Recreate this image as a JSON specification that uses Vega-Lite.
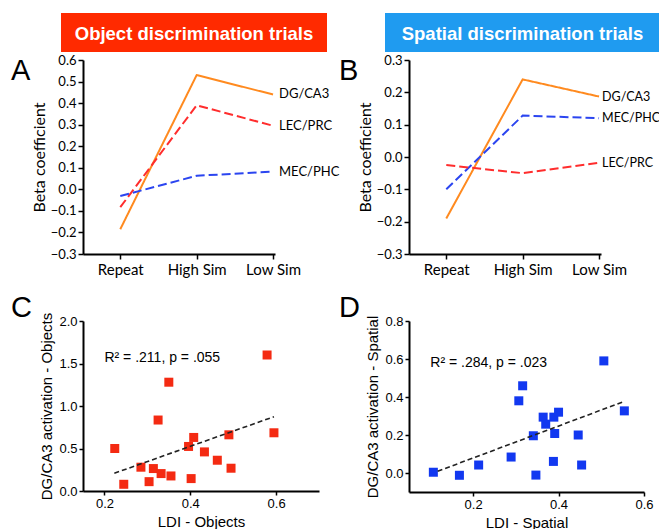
{
  "$schema": "https://vega.github.io/schema/vega-lite/v6.json",
  "padding": {"left": 10, "top": 13, "right": 0, "bottom": 4},
  "config": {
    "font": "Liberation Sans",
    "view": {"stroke": null},
    "axis": {"grid": false, "domainColor": "#000", "domainWidth": 2, "tickColor": "#000", "tickWidth": 1.5, "tickSize": 5, "labelColor": "#000", "titleColor": "#000", "labelFontSize": 13, "titleFontSize": 15, "titleFontWeight": "normal", "labelFlush": false, "labelOverlap": false}
  },
  "datasets": {
    "objectBeta": [
      {"region": "DG/CA3", "condition": "Repeat", "beta": -0.185},
      {"region": "DG/CA3", "condition": "High Sim", "beta": 0.53},
      {"region": "DG/CA3", "condition": "Low Sim", "beta": 0.44},
      {"region": "LEC/PRC", "condition": "Repeat", "beta": -0.083},
      {"region": "LEC/PRC", "condition": "High Sim", "beta": 0.39},
      {"region": "LEC/PRC", "condition": "Low Sim", "beta": 0.295},
      {"region": "MEC/PHC", "condition": "Repeat", "beta": -0.031},
      {"region": "MEC/PHC", "condition": "High Sim", "beta": 0.063},
      {"region": "MEC/PHC", "condition": "Low Sim", "beta": 0.082}
    ],
    "spatialBeta": [
      {"region": "DG/CA3", "condition": "Repeat", "beta": -0.19},
      {"region": "DG/CA3", "condition": "High Sim", "beta": 0.24},
      {"region": "DG/CA3", "condition": "Low Sim", "beta": 0.187},
      {"region": "MEC/PHC", "condition": "Repeat", "beta": -0.1},
      {"region": "MEC/PHC", "condition": "High Sim", "beta": 0.128},
      {"region": "MEC/PHC", "condition": "Low Sim", "beta": 0.12},
      {"region": "LEC/PRC", "condition": "Repeat", "beta": -0.025},
      {"region": "LEC/PRC", "condition": "High Sim", "beta": -0.05},
      {"region": "LEC/PRC", "condition": "Low Sim", "beta": -0.018}
    ],
    "objectScatter": [
      {"ldi": 0.224, "activation": 0.5},
      {"ldi": 0.245, "activation": 0.079},
      {"ldi": 0.285, "activation": 0.28},
      {"ldi": 0.304, "activation": 0.11},
      {"ldi": 0.314, "activation": 0.264},
      {"ldi": 0.325, "activation": 0.835},
      {"ldi": 0.332, "activation": 0.205},
      {"ldi": 0.35, "activation": 1.28},
      {"ldi": 0.355, "activation": 0.177},
      {"ldi": 0.396, "activation": 0.524},
      {"ldi": 0.402, "activation": 0.146},
      {"ldi": 0.408, "activation": 0.63},
      {"ldi": 0.433, "activation": 0.46},
      {"ldi": 0.463, "activation": 0.362},
      {"ldi": 0.49, "activation": 0.661},
      {"ldi": 0.495, "activation": 0.268},
      {"ldi": 0.579, "activation": 1.6},
      {"ldi": 0.595, "activation": 0.685}
    ],
    "objectFit": [
      {"ldi": 0.223, "activation": 0.209},
      {"ldi": 0.595, "activation": 0.874}
    ],
    "spatialScatter": [
      {"ldi": 0.107, "activation": 0.004},
      {"ldi": 0.168, "activation": -0.012},
      {"ldi": 0.213, "activation": 0.042},
      {"ldi": 0.289, "activation": 0.084},
      {"ldi": 0.307, "activation": 0.38},
      {"ldi": 0.316, "activation": 0.459},
      {"ldi": 0.341, "activation": 0.196},
      {"ldi": 0.347, "activation": -0.011},
      {"ldi": 0.364, "activation": 0.294},
      {"ldi": 0.37, "activation": 0.257},
      {"ldi": 0.388, "activation": 0.061},
      {"ldi": 0.389, "activation": 0.294},
      {"ldi": 0.391, "activation": 0.208},
      {"ldi": 0.4, "activation": 0.32},
      {"ldi": 0.446, "activation": 0.2},
      {"ldi": 0.454, "activation": 0.042},
      {"ldi": 0.506, "activation": 0.59},
      {"ldi": 0.554, "activation": 0.327}
    ],
    "spatialFit": [
      {"ldi": 0.117, "activation": 0.009},
      {"ldi": 0.554, "activation": 0.377}
    ]
  },
  "columns": 2,
  "bounds": "flush",
  "spacing": {"row": 67, "column": 90},
  "concat": [
    {
      "width": 192,
      "height": 194,
      "layer": [
        {
          "data": {"name": "objectBeta"},
          "layer": [
            {
              "mark": {"type": "line", "strokeWidth": 2},
              "encoding": {
                "x": {"field": "condition", "type": "ordinal", "scale": {"type": "point", "domain": ["Repeat", "High Sim", "Low Sim"], "padding": 0.257, "align": 0.95}, "axis": {"title": null, "orient": "bottom", "labelAngle": 0, "labelFont": "Lato", "labelFontSize": 15, "labelPadding": 3}},
                "y": {"field": "beta", "type": "quantitative", "scale": {"domain": [-0.3, 0.6], "nice": false, "zero": false}, "axis": {"title": "Beta coefficient", "orient": "left", "values": [-0.3, -0.2, -0.1, 0, 0.1, 0.2, 0.3, 0.4, 0.5, 0.6], "tickCount": 10, "format": ".1f", "labelOverlap": false, "labelFont": "Lato", "labelFontSize": 13, "labelPadding": 2, "titleFont": "Lato", "titleFontSize": 16, "titlePadding": 3}},
                "color": {"field": "region", "type": "nominal", "scale": {"domain": ["DG/CA3", "LEC/PRC", "MEC/PHC"], "range": ["#ff8a1f", "#ff2d2d", "#2b45f0"]}, "legend": null},
                "strokeDash": {"field": "region", "type": "nominal", "scale": {"domain": ["DG/CA3", "LEC/PRC", "MEC/PHC"], "range": [[1, 0], [9, 4], [9, 4]]}, "legend": null}
              }
            },
            {
              "transform": [{"filter": "datum.condition === 'Low Sim'"}],
              "mark": {"type": "text", "align": "left", "baseline": "middle", "dx": 6, "font": "Lato", "fontSize": 13, "color": "#000"},
              "encoding": {
                "x": {"field": "condition", "type": "ordinal", "scale": {"type": "point", "domain": ["Repeat", "High Sim", "Low Sim"], "padding": 0.257, "align": 0.95}},
                "y": {"field": "beta", "type": "quantitative", "scale": {"domain": [-0.3, 0.6], "nice": false, "zero": false}},
                "text": {"field": "region"}
              }
            }
          ]
        },
        {
          "data": {"values": [{"title": "Object discrimination trials", "panel": "A"}]},
          "layer": [
            {
              "mark": {"type": "rect", "color": "#ff2a00"},
              "encoding": {
                "x": {"datum": 0, "type": "quantitative", "scale": {"domain": [0.08271, 0.80451], "nice": false, "zero": false}, "axis": null},
                "x2": {"datum": 1},
                "y": {"datum": 0, "type": "quantitative", "scale": {"domain": [-5.1795, -0.2051], "nice": false, "zero": false}, "axis": null},
                "y2": {"datum": 1}
              }
            },
            {
              "mark": {"type": "text", "color": "#ffffff", "font": "Liberation Sans", "fontWeight": "bold", "fontSize": 18.5, "baseline": "middle", "dy": 1},
              "encoding": {
                "x": {"datum": 0.5, "type": "quantitative", "scale": {"domain": [0.08271, 0.80451], "nice": false, "zero": false}, "axis": null},
                "y": {"datum": 0.5, "type": "quantitative", "scale": {"domain": [-5.1795, -0.2051], "nice": false, "zero": false}, "axis": null},
                "text": {"field": "title"}
              }
            },
            {
              "mark": {"type": "text", "color": "#000", "font": "Liberation Sans", "fontSize": 29, "align": "left", "baseline": "alphabetic"},
              "encoding": {
                "x": {"datum": -0.188, "type": "quantitative", "scale": {"domain": [0.08271, 0.80451], "nice": false, "zero": false}, "axis": null},
                "y": {"datum": -0.718, "type": "quantitative", "scale": {"domain": [-5.1795, -0.2051], "nice": false, "zero": false}, "axis": null},
                "text": {"field": "panel"}
              }
            }
          ]
        }
      ],
      "resolve": {"scale": {"x": "independent", "y": "independent"}}
    },
    {
      "width": 192,
      "height": 194,
      "layer": [
        {
          "data": {"name": "spatialBeta"},
          "layer": [
            {
              "mark": {"type": "line", "strokeWidth": 2},
              "encoding": {
                "x": {"field": "condition", "type": "ordinal", "scale": {"type": "point", "domain": ["Repeat", "High Sim", "Low Sim"], "padding": 0.257, "align": 0.95}, "axis": {"title": null, "orient": "bottom", "labelAngle": 0, "labelFont": "Lato", "labelFontSize": 15, "labelPadding": 3}},
                "y": {"field": "beta", "type": "quantitative", "scale": {"domain": [-0.3, 0.3], "nice": false, "zero": false}, "axis": {"title": "Beta coefficient", "orient": "left", "values": [-0.3, -0.2, -0.1, 0, 0.1, 0.2, 0.3], "tickCount": 7, "format": ".1f", "labelOverlap": false, "labelFont": "Lato", "labelFontSize": 13, "labelPadding": 2, "titleFont": "Lato", "titleFontSize": 16, "titlePadding": 3}},
                "color": {"field": "region", "type": "nominal", "scale": {"domain": ["DG/CA3", "LEC/PRC", "MEC/PHC"], "range": ["#ff8a1f", "#ff2d2d", "#3a8cf2"]}, "legend": null},
                "strokeDash": {"field": "region", "type": "nominal", "scale": {"domain": ["DG/CA3", "LEC/PRC", "MEC/PHC"], "range": [[1, 0], [9, 4], [9, 4]]}, "legend": null}
              }
            },
            {
              "transform": [{"filter": "datum.condition === 'Low Sim'"}],
              "mark": {"type": "text", "align": "left", "baseline": "middle", "dx": 3, "font": "Lato", "fontSize": 12.5, "color": "#000"},
              "encoding": {
                "x": {"field": "condition", "type": "ordinal", "scale": {"type": "point", "domain": ["Repeat", "High Sim", "Low Sim"], "padding": 0.257, "align": 0.95}},
                "y": {"field": "beta", "type": "quantitative", "scale": {"domain": [-0.3, 0.3], "nice": false, "zero": false}},
                "text": {"field": "region"}
              }
            }
          ]
        },
        {
          "data": {"values": [{"title": "Spatial discrimination trials", "panel": "B"}]},
          "layer": [
            {
              "mark": {"type": "rect", "color": "#1f9bf0"},
              "encoding": {
                "x": {"datum": 0, "type": "quantitative", "scale": {"domain": [0.08727, 0.78545], "nice": false, "zero": false}, "axis": null},
                "x2": {"datum": 1},
                "y": {"datum": 0, "type": "quantitative", "scale": {"domain": [-5.1795, -0.2051], "nice": false, "zero": false}, "axis": null},
                "y2": {"datum": 1}
              }
            },
            {
              "mark": {"type": "text", "color": "#ffffff", "font": "Liberation Sans", "fontWeight": "bold", "fontSize": 18.5, "baseline": "middle", "dy": 1},
              "encoding": {
                "x": {"datum": 0.5, "type": "quantitative", "scale": {"domain": [0.08727, 0.78545], "nice": false, "zero": false}, "axis": null},
                "y": {"datum": 0.5, "type": "quantitative", "scale": {"domain": [-5.1795, -0.2051], "nice": false, "zero": false}, "axis": null},
                "text": {"field": "title"}
              }
            },
            {
              "mark": {"type": "text", "color": "#000", "font": "Liberation Sans", "fontSize": 29, "align": "left", "baseline": "alphabetic"},
              "encoding": {
                "x": {"datum": -0.1673, "type": "quantitative", "scale": {"domain": [0.08727, 0.78545], "nice": false, "zero": false}, "axis": null},
                "y": {"datum": -0.718, "type": "quantitative", "scale": {"domain": [-5.1795, -0.2051], "nice": false, "zero": false}, "axis": null},
                "text": {"field": "panel"}
              }
            }
          ]
        }
      ],
      "resolve": {"scale": {"x": "independent", "y": "independent"}}
    },
    {
      "width": 236,
      "height": 170,
      "layer": [
        {
          "data": {"name": "objectScatter"},
          "mark": {"type": "square", "size": 81, "opacity": 1, "color": "#f42a12"},
          "encoding": {
            "x": {"field": "ldi", "type": "quantitative", "scale": {"domain": [0.15, 0.7], "nice": false, "zero": false}, "axis": {"title": "LDI - Objects", "orient": "bottom", "values": [0.2, 0.4, 0.6], "format": ".1f", "labelOverlap": false, "tickSize": 4, "labelPadding": 2, "titlePadding": 4}},
            "y": {"field": "activation", "type": "quantitative", "scale": {"domain": [0, 2], "nice": false, "zero": false}, "axis": {"title": "DG/CA3 activation - Objects", "orient": "left", "values": [0, 0.5, 1, 1.5, 2], "tickCount": 5, "format": ".1f", "labelOverlap": false, "tickSize": 4, "labelPadding": 2, "titlePadding": 4}}
          }
        },
        {
          "data": {"name": "objectFit"},
          "mark": {"type": "line", "color": "#222222", "strokeWidth": 1.6, "strokeDash": [5, 3]},
          "encoding": {
            "x": {"field": "ldi", "type": "quantitative", "scale": {"domain": [0.15, 0.7], "nice": false, "zero": false}},
            "y": {"field": "activation", "type": "quantitative", "scale": {"domain": [0, 2], "nice": false, "zero": false}}
          }
        },
        {
          "data": {"values": [{"stat": "R² = .211, p = .055", "panel": "C"}]},
          "layer": [
            {
              "mark": {"type": "text", "align": "left", "baseline": "middle", "fontSize": 14, "color": "#000"},
              "encoding": {
                "x": {"datum": 0.2, "type": "quantitative", "scale": {"domain": [0.15, 0.7], "nice": false, "zero": false}},
                "y": {"datum": 1.57, "type": "quantitative", "scale": {"domain": [0, 2], "nice": false, "zero": false}},
                "text": {"field": "stat"}
              }
            },
            {
              "mark": {"type": "text", "align": "left", "baseline": "alphabetic", "fontSize": 29, "color": "#000"},
              "encoding": {
                "x": {"datum": -0.0178, "type": "quantitative", "scale": {"domain": [0.15, 0.7], "nice": false, "zero": false}},
                "y": {"datum": 2.047, "type": "quantitative", "scale": {"domain": [0, 2], "nice": false, "zero": false}},
                "text": {"field": "panel"}
              }
            }
          ]
        }
      ]
    },
    {
      "width": 235,
      "height": 171,
      "layer": [
        {
          "data": {"name": "spatialScatter"},
          "mark": {"type": "square", "size": 81, "opacity": 1, "color": "#1238f0"},
          "encoding": {
            "x": {"field": "ldi", "type": "quantitative", "scale": {"domain": [0.05, 0.6], "nice": false, "zero": false}, "axis": {"title": "LDI - Spatial", "orient": "bottom", "values": [0.2, 0.4, 0.6], "format": ".1f", "labelOverlap": false, "tickSize": 4, "labelPadding": 2, "titlePadding": 4}},
            "y": {"field": "activation", "type": "quantitative", "scale": {"domain": [-0.1, 0.8], "nice": false, "zero": false}, "axis": {"title": "DG/CA3 activation - Spatial", "orient": "left", "values": [0, 0.2, 0.4, 0.6, 0.8], "tickCount": 5, "format": ".1f", "labelOverlap": false, "tickSize": 4, "labelPadding": 2, "titlePadding": 4}}
          }
        },
        {
          "data": {"name": "spatialFit"},
          "mark": {"type": "line", "color": "#222222", "strokeWidth": 1.6, "strokeDash": [5, 3]},
          "encoding": {
            "x": {"field": "ldi", "type": "quantitative", "scale": {"domain": [0.05, 0.6], "nice": false, "zero": false}},
            "y": {"field": "activation", "type": "quantitative", "scale": {"domain": [-0.1, 0.8], "nice": false, "zero": false}}
          }
        },
        {
          "data": {"values": [{"stat": "R² = .284, p = .023", "panel": "D"}]},
          "layer": [
            {
              "mark": {"type": "text", "align": "left", "baseline": "middle", "fontSize": 14, "color": "#000"},
              "encoding": {
                "x": {"datum": 0.1, "type": "quantitative", "scale": {"domain": [0.05, 0.6], "nice": false, "zero": false}},
                "y": {"datum": 0.58, "type": "quantitative", "scale": {"domain": [-0.1, 0.8], "nice": false, "zero": false}},
                "text": {"field": "stat"}
              }
            },
            {
              "mark": {"type": "text", "align": "left", "baseline": "alphabetic", "fontSize": 29, "color": "#000"},
              "encoding": {
                "x": {"datum": -0.1138, "type": "quantitative", "scale": {"domain": [0.05, 0.6], "nice": false, "zero": false}},
                "y": {"datum": 0.821, "type": "quantitative", "scale": {"domain": [-0.1, 0.8], "nice": false, "zero": false}},
                "text": {"field": "panel"}
              }
            }
          ]
        }
      ]
    }
  ]
}
